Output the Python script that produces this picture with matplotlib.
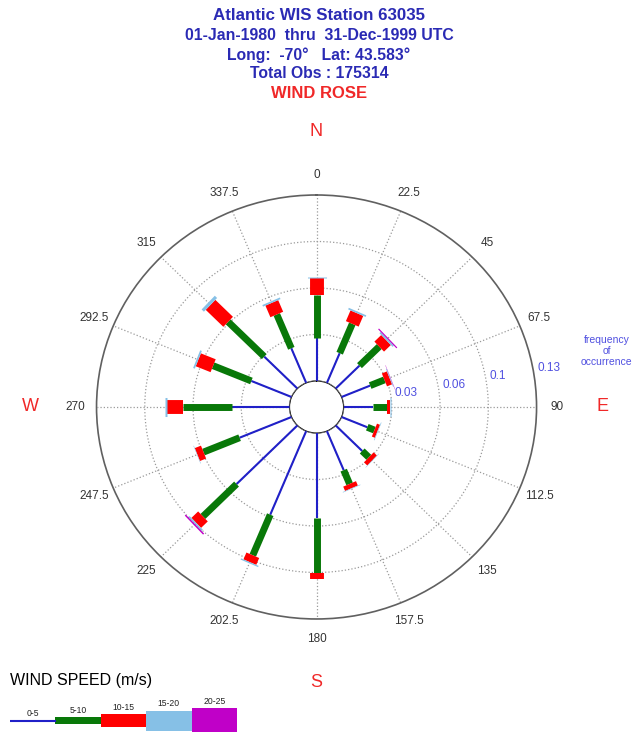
import numpy as np
import matplotlib.pyplot as plt

plt.rcParams['font.family'] = ['Liberation Sans', 'DejaVu Sans']

# wind direction bins (degrees, clockwise from north)
directions = np.arange(0, 360, 22.5)
angle_labels = ['0', '22.5', '45', '67.5', '90', '112.5', '135', '157.5',
                '180', '202.5', '225', '247.5', '270', '292.5', '315', '337.5']

# frequency of occurrence per speed class (m/s)
freq_0_5 = [0.0300, 0.0225, 0.0227, 0.0209, 0.0200, 0.0188, 0.0253, 0.0296,
            0.0596, 0.0633, 0.0580, 0.0379, 0.0390, 0.0293, 0.0316, 0.0262]
freq_5_10 = [0.0300, 0.0222, 0.0188, 0.0104, 0.0090, 0.0052, 0.0063, 0.0104,
             0.0384, 0.0307, 0.0320, 0.0263, 0.0326, 0.0279, 0.0344, 0.0256]
freq_10_15 = [0.0120, 0.0081, 0.0065, 0.0037, 0.0023, 0.0022, 0.0031, 0.0033,
              0.0040, 0.0052, 0.0064, 0.0045, 0.0112, 0.0108, 0.0168, 0.0088]
freq_15_20 = [0.0008, 0.0012, 0.0012, 0.0005, 0.0004, 0.0004, 0.0003, 0.0004,
              0.0003, 0.0009, 0.0012, 0.0003, 0.0012, 0.0012, 0.0022, 0.0012]
freq_20_25 = [0.0000, 0.0000, 0.0008, 0.0002, 0.0000, 0.0000, 0.0000, 0.0000,
              0.0000, 0.0000, 0.0010, 0.0000, 0.0000, 0.0000, 0.0000, 0.0000]

speed_classes = ['0-5', '5-10', '10-15', '15-20', '20-25']
ring_values = [0.0325, 0.065, 0.0975, 0.13]
ring_labels = ['0.03', '0.06', '0.1', '0.13']

title_lines = ['Atlantic WIS Station 63035',
               '01-Jan-1980  thru  31-Dec-1999 UTC',
               'Long:  -70\u00b0   Lat: 43.583\u00b0',
               'Total Obs : 175314']

# styles
colors = ['#2020c8', '#087808', '#ff0000', '#86c0e6', '#c000c8']
widths = [1.5, 5.0, 10.0, 13.7, 19.0]
legend_h = [0, 6.7, 13.3, 20, 25]
blue_txt = '#2a2ab4'
red_txt = '#f02828'

fig = plt.figure(figsize=(6.38, 7.32), dpi=100)
ax = fig.add_axes([0.1513, 0.1544, 0.6897, 0.5792], projection='polar')
ax.set_aspect('auto')
ax.set_theta_zero_location('N')
ax.set_theta_direction(-1)
ax.set_ylim(0, 0.13)
ax.set_rorigin(-0.0182)

theta = np.deg2rad(directions)
ax.set_thetagrids(directions, labels=[])
ax.set_rgrids(ring_values[:-1], labels=[])
ax.grid(True, linestyle=':', color='#9a9a9a', linewidth=0.9)
ax.spines['polar'].set_color('#606060')
ax.spines['polar'].set_linewidth(1.2)

# calm circle
circ = np.linspace(0, 2 * np.pi, 300)
ax.plot(circ, np.zeros_like(circ), color='#777777', lw=1.0, zorder=3)

# stacked petals
start = np.zeros(len(directions))
for freq, c, w in zip([freq_0_5, freq_5_10, freq_10_15, freq_15_20, freq_20_25],
                      colors, widths):
    freq = np.array(freq)
    end = start + freq
    m = freq > 0
    ax.vlines(theta[m], start[m], end[m], colors=c, linewidth=w, zorder=4)
    start = end

# angle labels and compass letters
for th, lab in zip(theta, angle_labels):
    ax.text(th, 0.1441, lab, ha='center', va='center', fontsize=8.5,
            color='#333333')
for th, lab in zip(np.deg2rad([0, 90, 180, 270]), ['N', 'E', 'S', 'W']):
    ax.text(th, 0.1744, lab, ha='center', va='center', fontsize=13,
            color=red_txt)

# ring labels
for r, lab in zip(ring_values, ring_labels):
    ax.text(np.deg2rad(79.5), r + 0.003, lab, ha='left', va='center',
            fontsize=8.5, color='#5050e0')
fig.text(606.7 / 638, 1 - 351 / 732, 'frequency\nof\noccurrence', ha='center',
         va='center', fontsize=7.5, color='#5050e0', linespacing=1.15)

# title block
ys = [16, 36, 55, 73.3]
sizes = [12.2, 11.4, 11.3, 11.3]
for y, s, txt in zip(ys, sizes, title_lines):
    fig.text(0.5, 1 - y / 732, txt, ha='center', va='center', fontsize=s,
             fontweight='bold', color=blue_txt)
fig.text(0.5, 1 - 93.3 / 732, 'WIND ROSE', ha='center', va='center',
         fontsize=12, fontweight='bold', color=red_txt)

# legend
fig.text(81.5 / 638, 1 - 680 / 732, 'WIND SPEED (m/s)', ha='center',
         va='center', fontsize=11.5, color='black')
lax = fig.add_axes([10 / 638, 0, 227 / 638, 42 / 732])
lax.set_xlim(0, 5)
lax.set_ylim(-11.5, 30.5)
lax.axis('off')
lax.plot([0, 1], [0, 0], color=colors[0], lw=1.5)
for i, (h, c) in enumerate(zip(legend_h, colors)):
    if h > 0:
        lax.bar(i, h, bottom=-h / 2, width=1, align='edge', color=c)
    lax.text(i + 0.5, max(h, 2) / 2 + 6.5, speed_classes[i], ha='center',
             va='center', fontsize=6.2, color='#222222')

fig.savefig('out.png', dpi=100)
